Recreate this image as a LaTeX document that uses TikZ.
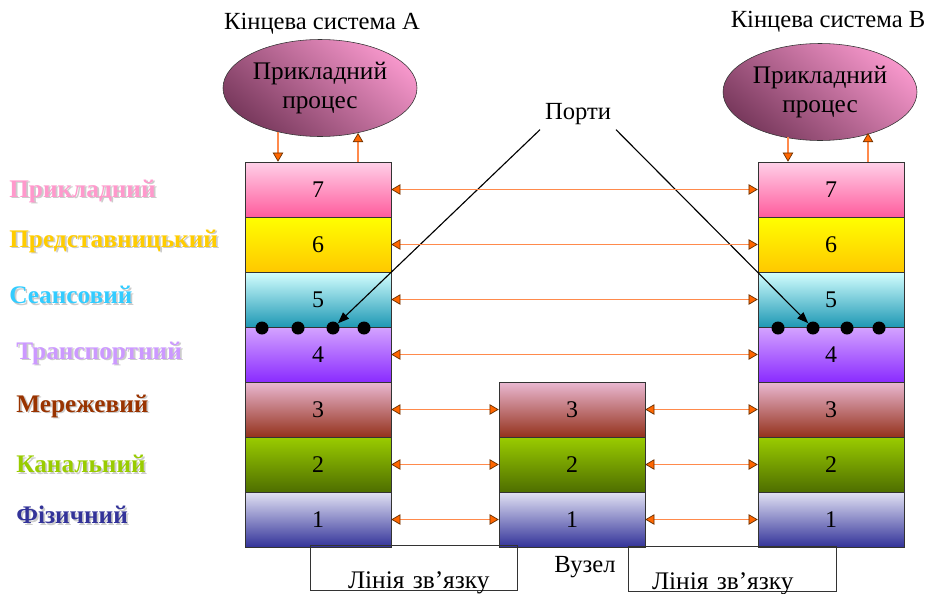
\documentclass[tikz,border=0pt]{standalone}
\usepackage{fontspec}
\setmainfont{Liberation Serif}
\usetikzlibrary{shapes.geometric,arrows.meta}

% layer colours (top / bottom of each gradient)
\definecolor{l7t}{HTML}{FFD0E8}\definecolor{l7b}{HTML}{FF5C9D}
\definecolor{l6t}{HTML}{FFFF00}\definecolor{l6b}{HTML}{FFC800}
\definecolor{l5t}{HTML}{D4FFFF}\definecolor{l5b}{HTML}{1E98B4}
\definecolor{l4t}{HTML}{D4A4FF}\definecolor{l4b}{HTML}{8A2BFF}
\definecolor{l3t}{HTML}{EAB8D2}\definecolor{l3b}{HTML}{94321C}
\definecolor{l2t}{HTML}{9ACC00}\definecolor{l2b}{HTML}{4E6E00}
\definecolor{l1t}{HTML}{E2E2F4}\definecolor{l1b}{HTML}{333399}
% label colours
\definecolor{c7}{HTML}{FF99CC}\definecolor{c6}{HTML}{FFCC00}
\definecolor{c5}{HTML}{33CCFF}\definecolor{c4}{HTML}{CC99FF}
\definecolor{c3}{HTML}{993300}\definecolor{c2}{HTML}{99CC00}
\definecolor{c1}{HTML}{333399}
% arrows and ellipses
\definecolor{linkor}{HTML}{FF8A4C}\definecolor{tipor}{HTML}{FF6600}
\definecolor{tipdk}{HTML}{6A3000}
\definecolor{ellL}{HTML}{F596CA}\definecolor{ellD}{HTML}{7A3A5E}

\newcommand{\pxu}{0.025cm}
\newcommand{\shadowed}[2]{\makebox[0pt][l]{\kern1.3pt\raisebox{-1.3pt}{\color{black!20}#2}}{\color{#1}#2}}

\tikzset{
  layer/.style={draw=black!80, minimum width=146*\pxu, minimum height=55*\pxu,
    inner sep=0pt, font=\fontsize{17}{20}\selectfont},
  s7/.style={top color=l7t, bottom color=l7b},
  s6/.style={top color=l6t, bottom color=l6b},
  s5/.style={top color=l5t, bottom color=l5b},
  s4/.style={top color=l4t, bottom color=l4b},
  s3/.style={top color=l3t, bottom color=l3b},
  s2/.style={top color=l2t, bottom color=l2b},
  s1/.style={top color=l1t, bottom color=l1b},
  proc/.style={ellipse, draw=black!80, minimum width=194*\pxu, minimum height=97*\pxu,
    inner sep=0pt, align=center, top color=ellL, bottom color=ellD, shading angle=-40,
    font=\fontsize{18}{20}\selectfont},
  lbl/.style={anchor=west, inner sep=0pt, font=\fontsize{18}{20}\selectfont\bfseries},
  port/.style={circle, fill=black, inner sep=0pt, minimum size=13*\pxu},
  link/.style={linkor, line width=1.1pt},
  >={Triangle[length=6.5pt,width=7.5pt,line width=0.5pt,color=tipdk,fill=tipor]},
  linkbox/.style={draw=black!80, inner sep=0pt, align=left, text height=43*\pxu,
    text depth=2*\pxu, font=\fontsize{18}{20}\selectfont}
}

\begin{document}
\begin{tikzpicture}[x=\pxu, y=-\pxu, font=\fontsize{17.5}{20}\selectfont]
  \useasboundingbox (0,0) rectangle (927,593);

  % Titles
  \node (titleA) at (322,24) {Кінцева система А};
  \node (titleB) at (828,22) {Кінцева система В};

  % Application processes
  \node[proc] (EA) at (320,88) {Прикладний\\процес};
  \node[proc] (EB) at (820,92) {Прикладний\\процес};

  % Layer names
  \node[lbl] (n7) at (9,192) {\shadowed{c7}{Прикладний}};
  \node[lbl] (n6) at (9,242) {\shadowed{c6}{Представницький}};
  \node[lbl] (n5) at (9,296) {\shadowed{c5}{Сеансовий}};
  \node[lbl] (n4) at (16,354) {\shadowed{c4}{Транспортний}};
  \node[lbl] (n3) at (16,407) {\shadowed{c3}{Мережевий}};
  \node[lbl] (n2) at (16,465) {\shadowed{c2}{Канальний}};
  \node[lbl] (n1) at (16,516) {\shadowed{c1}{Фізичний}};

  % Stack of system A
  \node[layer, s7] (A7) at (318,189.5) {7};
  \node[layer, s6] (A6) at (318,244.5) {6};
  \node[layer, s5] (A5) at (318,299.5) {5};
  \node[layer, s4] (A4) at (318,354.5) {4};
  \node[layer, s3] (A3) at (318,409.5) {3};
  \node[layer, s2] (A2) at (318,464.5) {2};
  \node[layer, s1] (A1) at (318,519.5) {1};

  % Intermediate node
  \node[layer, s3] (N3) at (572,409.5) {3};
  \node[layer, s2] (N2) at (572,464.5) {2};
  \node[layer, s1] (N1) at (572,519.5) {1};

  % Stack of system B
  \node[layer, s7] (B7) at (831,189.5) {7};
  \node[layer, s6] (B6) at (831,244.5) {6};
  \node[layer, s5] (B5) at (831,299.5) {5};
  \node[layer, s4] (B4) at (831,354.5) {4};
  \node[layer, s3] (B3) at (831,409.5) {3};
  \node[layer, s2] (B2) at (831,464.5) {2};
  \node[layer, s1] (B1) at (831,519.5) {1};

  % Ports between layers 5 and 4
  \node[port] (pa1) at (262,328) {};
  \node[port] (pa2) at (298,328) {};
  \node[port] (pa3) at (333,328) {};
  \node[port] (pa4) at (364,328) {};
  \node[port] (pb1) at (778,328) {};
  \node[port] (pb2) at (813,328) {};
  \node[port] (pb3) at (847,328) {};
  \node[port] (pb4) at (879,328) {};

  \node (ports) at (578,114) {Порти};
  \draw[line width=0.8pt, -{Triangle[length=8pt,width=6pt]}] (ports.south west) -- (pa3);
  \draw[line width=0.8pt, -{Triangle[length=8pt,width=6pt]}] (ports.south east) -- (pb2);

  % Peer-to-peer exchanges
  \draw[link, <->] (A7) -- (B7);
  \draw[link, <->] (A6) -- (B6);
  \draw[link, <->] (A5) -- (B5);
  \draw[link, <->] (A4) -- (B4);
  \draw[link, <->] (A3) -- (N3);
  \draw[link, <->] (A2) -- (N2);
  \draw[link, <->] (A1) -- (N1);
  \draw[link, <->] (N3) -- (B3);
  \draw[link, <->] (N2) -- (B2);
  \draw[link, <->] (N1) -- (B1);

  % Process <-> top layer
  \coordinate (downA) at (278,132);
  \coordinate (upA) at (358,133);
  \coordinate (downB) at (788,137);
  \coordinate (upB) at (868,133);
  \draw[link, ->] (downA) -- (downA |- A7.north);
  \draw[link, ->] (upA |- A7.north) -- (upA);
  \draw[link, ->] (downB) -- (downB |- B7.north);
  \draw[link, ->] (upB |- B7.north) -- (upB);

  % Links and node caption
  \node[linkbox, text width=207*\pxu] (lineA) at (413.5,567.5) {\hspace*{0.95cm}Лінія зв’язку};
  \node[linkbox, text width=208*\pxu] (lineB) at (732,569) {\hspace*{0.6cm}Лінія зв’язку};
  \node (node) at (585,567) {Вузел};
\end{tikzpicture}
\end{document}
